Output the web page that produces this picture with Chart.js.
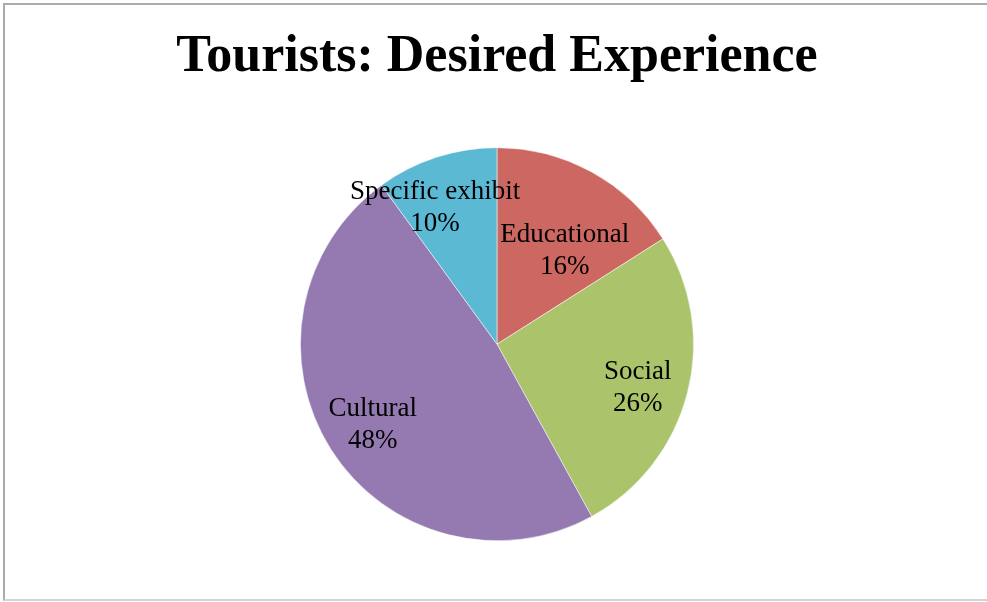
<!DOCTYPE html>
<html>
<head>
<meta charset="utf-8">
<script src="https://cdn.jsdelivr.net/npm/chart.js@4.4.1/dist/chart.umd.min.js"></script>
<style>
  html, body { margin: 0; padding: 0; background: #fff; overflow: hidden; }
  #wrap { position: absolute; left: 0; top: 0; width: 987px; height: 602px; }
  #frame {
    position: absolute; left: 3px; top: 3px; width: 1000px; height: 594px;
    border-left: 2px solid #ababab; border-top: 2px solid #ababab;
    border-bottom: 2px solid #d4d4d4; pointer-events: none;
  }
</style>
</head>
<body>
<div id="wrap">
  <canvas id="pie" width="987" height="602"></canvas>
  <div id="frame"></div>
</div>
<script>
const categories = ['Educational', 'Social', 'Cultural', 'Specific exhibit'];
const shares = [16, 26, 48, 10];
const sliceColors = ['#cc6761', '#abc46c', '#947ab1', '#5cb9d3'];

// where each label sits: [fraction along the slice's arc, fraction of the radius]
const labelSpots = [[0.625, 0.587], [0.529, 0.749], [0.497, 0.753], [0.32, 0.76]];

const pieLabels = {
    id: 'pieLabels',
    afterDatasetsDraw(chart) {
        const ctx = chart.ctx;
        const meta = chart.getDatasetMeta(0);
        const values = chart.data.datasets[0].data;
        const total = values.reduce((a, b) => a + b, 0);
        ctx.save();
        ctx.font = '27px "Liberation Serif", serif';
        ctx.fillStyle = '#000';
        ctx.textAlign = 'center';
        ctx.textBaseline = 'middle';
        meta.data.forEach((arc, i) => {
            const p = arc.getProps(['x', 'y', 'startAngle', 'endAngle', 'outerRadius'], true);
            const spot = labelSpots[i];
            const a = p.startAngle + (p.endAngle - p.startAngle) * spot[0];
            const r = p.outerRadius * spot[1];
            const cx = p.x + Math.cos(a) * r;
            const cy = p.y + Math.sin(a) * r;
            const pct = Math.round(values[i] / total * 100) + '%';
            ctx.fillText(chart.data.labels[i], cx, cy - 16);
            ctx.fillText(pct, cx, cy + 16);
        });
        ctx.restore();
    }
};

const pieCtx = document.getElementById('pie').getContext('2d');
const pieChart = new Chart(pieCtx, {
    type: 'pie',
    data: {
        labels: categories,
        datasets: [{
            data: shares,
            backgroundColor: sliceColors,
            borderColor: '#ffffff',
            borderWidth: 0.5
        }]
    },
    options: {
        responsive: false,
        animation: false,
        layout: { padding: { left: 7, right: 0, top: 0, bottom: 61 } },
        plugins: {
            legend: { display: false },
            tooltip: { enabled: false },
            title: {
                display: true,
                text: 'Tourists: Desired Experience',
                color: '#000',
                font: { family: '"Liberation Serif", serif', size: 52, weight: 'bold', lineHeight: 1.2 },
                padding: { top: 26, bottom: 59 }
            }
        }
    },
    plugins: [pieLabels]
});
</script>
</body>
</html>
